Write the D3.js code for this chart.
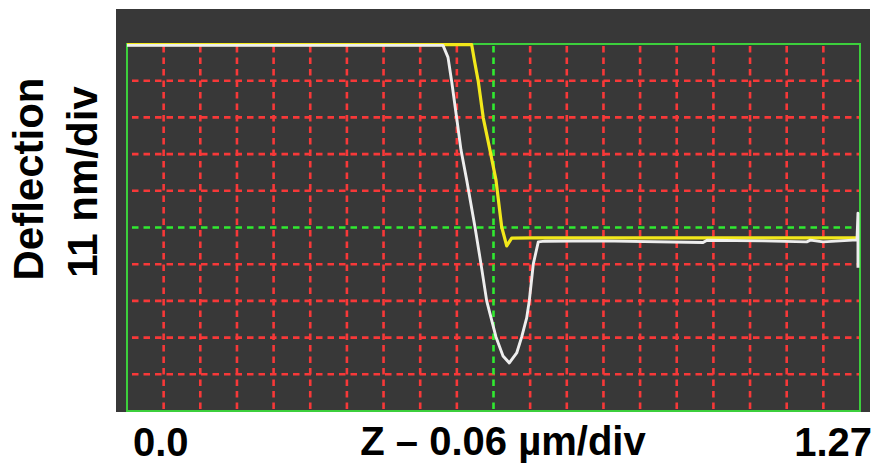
<!DOCTYPE html>
<html>
<head>
<meta charset="utf-8">
<script src="https://cdn.jsdelivr.net/npm/d3@7"></script>
<style>
  body { margin: 0; background: #fff; }
  text { font-family: "Liberation Sans", Arial, sans-serif; font-weight: bold; fill: #000; }
</style>
</head>
<body>
<div id="chart"></div>
<script>
// Z in um, deflection in nm
var approachZ = [0, 0.5475, 0.5562, 0.5626, 0.5712, 0.5787, 0.5886, 0.6029, 0.6133, 0.6232, 0.6393, 0.6515, 0.6624, 0.6752, 0.6839, 0.6925, 0.6970, 0.7040, 0.7126, 0.7242, 0.8195, 0.9980, 1.0050, 1.1019, 1.1777, 1.1840, 1.2059, 1.2648, 1.2665, 1.2665];
var approachDefl = [54.6, 54.6, 51, 43.7, 32.8, 23.2, 14.2, 0.15, -10.9, -22.0, -32.8, -38.5, -40.6, -37.6, -32.8, -27.1, -22.0, -10.9, -4.3, -4.1, -4.0, -4.5, -3.8, -4.0, -4.3, -3.8, -4.3, -3.7, 4.3, -12.1];

var retractZ = [0, 0.5475, 0.5972, 0.6020, 0.6087, 0.6173, 0.6289, 0.6393, 0.6492, 0.6579, 0.6665, 0.7000, 1.2665];
var retractDefl = [54.8, 54.8, 54.8, 50, 43.7, 32.8, 23.2, 14.2, 0.15, -5.5, -3.2, -3.1, -3.1];

var xLabels = ["0.0", "1.27"];
var xTitle = "Z \u2013 0.06 \u00b5m/div";
var yTitle = ["Deflection", "11 nm/div"];
var xDivs = 20, yDivs = 10;

var width = 879, height = 466;
var plot = {left: 127, right: 860, top: 44, bottom: 411};

var x = d3.scaleLinear().domain([0, 1.27]).range([plot.left, plot.right]);
var y = d3.scaleLinear().domain([-55, 55]).range([plot.bottom, plot.top]);

var svg = d3.select("#chart").append("svg")
    .attr("width", width)
    .attr("height", height);

// dark scope panel
svg.append("rect")
    .attr("x", 116).attr("y", 9)
    .attr("width", 754).attr("height", 403)
    .attr("fill", "#383838");

// red dashed grid
var gx = d3.range(1, xDivs).map(function(i) { return i * 1.27 / xDivs; });
var gy = d3.range(1, yDivs).map(function(i) { return -55 + i * 110 / yDivs; });

svg.selectAll(".vgrid")
    .data(gx.filter(function(d, i) { return i != xDivs / 2 - 1; }))
  .enter().append("line")
    .attr("x1", function(d) { return x(d); })
    .attr("x2", function(d) { return x(d); })
    .attr("y1", plot.top + 2).attr("y2", plot.bottom)
    .attr("stroke", "#f73838").attr("stroke-width", 2.6)
    .attr("stroke-dasharray", "6.5,5");

svg.selectAll(".hgrid")
    .data(gy.filter(function(d, i) { return i != yDivs / 2 - 1; }))
  .enter().append("line")
    .attr("x1", plot.left + 5).attr("x2", plot.right)
    .attr("y1", function(d) { return y(d); })
    .attr("y2", function(d) { return y(d); })
    .attr("stroke", "#f73838").attr("stroke-width", 2.6)
    .attr("stroke-dasharray", "6.5,5");

// green centre lines
svg.append("line")
    .attr("x1", x(1.27 / 2)).attr("x2", x(1.27 / 2))
    .attr("y1", plot.top + 2).attr("y2", plot.bottom)
    .attr("stroke", "#30ea30").attr("stroke-width", 2.6)
    .attr("stroke-dasharray", "6.5,5");
svg.append("line")
    .attr("x1", plot.left + 5).attr("x2", plot.right)
    .attr("y1", y(0)).attr("y2", y(0))
    .attr("stroke", "#30ea30").attr("stroke-width", 2.6)
    .attr("stroke-dasharray", "6.5,5");

// green border
svg.append("rect")
    .attr("x", plot.left).attr("y", plot.top)
    .attr("width", plot.right - plot.left)
    .attr("height", plot.bottom - plot.top)
    .attr("fill", "none")
    .attr("stroke", "#3ccf3c").attr("stroke-width", 2);

// curves
var line = d3.line()
    .x(function(d) { return x(d[0]); })
    .y(function(d) { return y(d[1]); });

svg.append("path")
    .datum(d3.zip(retractZ, retractDefl))
    .attr("d", line)
    .attr("fill", "none")
    .attr("stroke", "#f2e81a").attr("stroke-width", 3.2)
    .attr("stroke-linejoin", "round");

svg.append("path")
    .datum(d3.zip(approachZ, approachDefl))
    .attr("d", line)
    .attr("fill", "none")
    .attr("stroke", "#eeeeee").attr("stroke-width", 2.9)
    .attr("stroke-linejoin", "round");

// labels
svg.append("text").attr("x", 133).attr("y", 456)
    .attr("font-size", 40).text(xLabels[0]);
svg.append("text").attr("x", 872).attr("y", 456)
    .attr("font-size", 40).attr("text-anchor", "end").text(xLabels[1]);
svg.append("text").attr("x", 503).attr("y", 455)
    .attr("font-size", 40).attr("text-anchor", "middle").text(xTitle);

svg.append("text")
    .attr("transform", "translate(43,179) rotate(-90)")
    .attr("font-size", 42).attr("text-anchor", "middle").text(yTitle[0]);
svg.append("text")
    .attr("transform", "translate(97,182) rotate(-90)")
    .attr("font-size", 42).attr("text-anchor", "middle").text(yTitle[1]);
</script>
</body>
</html>
